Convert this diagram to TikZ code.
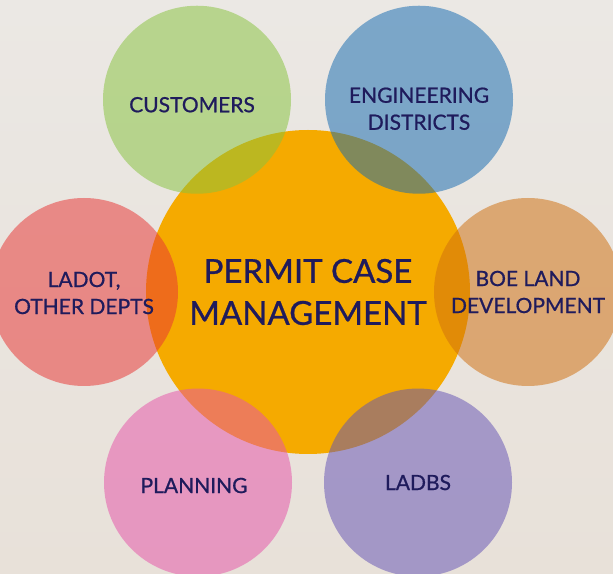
\documentclass[tikz,border=0pt]{standalone}
\usepackage{fontspec}
\setmainfont{Lato}[FakeBold=0.8]
\usepackage{tikz}
\usetikzlibrary{calc}
\definecolor{bgtop}{RGB}{235,232,228}
\definecolor{bgbot}{RGB}{232,225,217}
\definecolor{ink}{RGB}{31,27,92}
\definecolor{hubfill}{RGB}{245,170,0}
\definecolor{custfill}{RGB}{136,195,63}
\definecolor{engfill}{RGB}{22,107,177}
\definecolor{dotfill}{RGB}{232,53,52}
\definecolor{boefill}{RGB}{207,111,15}
\definecolor{planfill}{RGB}{230,84,169}
\definecolor{dbsfill}{RGB}{101,84,181}
\tikzset{
    hub/.style={circle,minimum size=324pt,inner sep=0pt,fill=hubfill,text=ink,
        align=center,font=\fontsize{33}{42}\selectfont},
    sat/.style={circle,minimum size=188pt,inner sep=0pt,fill opacity=0.52},
    satlabel/.style={text=ink,text opacity=1,fill opacity=1,align=center,
        inner sep=0pt,font=\fontsize{21}{27}\selectfont}
}
\begin{document}
\begin{tikzpicture}[x=1pt,y=1pt]
    \clip (0,0) rectangle (613,573);
    \shade[top color=bgtop,bottom color=bgbot] (0,0) rectangle (613,573);
    \node[hub] (pcm) at (308,281) {PERMIT CASE\\MANAGEMENT};
    \node[sat,fill=custfill,label={[satlabel,xshift=-5pt,yshift=-5pt]center:CUSTOMERS}]
        (cust) at ($(pcm)+(120:222)$) {};
    \node[sat,fill=engfill,label={[satlabel,yshift=-9pt]center:{ENGINEERING\\DISTRICTS}}]
        (eng) at ($(pcm)+(60:222)$) {};
    \node[sat,fill=dotfill,label={[satlabel,yshift=-1pt]center:{LADOT,\\OTHER DEPTS}}]
        (dot) at ($(pcm)+(180:224)$) {};
    \node[sat,fill=boefill,label={[satlabel]center:{BOE LAND\\DEVELOPMENT}}]
        (boe) at ($(pcm)+(0:220)$) {};
    \node[sat,fill=planfill,label={[satlabel,xshift=-4pt,yshift=-3pt]center:PLANNING}]
        (plan) at ($(pcm)+(240:220)$) {};
    \node[sat,fill=dbsfill,label={[satlabel]center:LADBS}]
        (dbs) at ($(pcm)+(300:220)$) {};
\end{tikzpicture}
\end{document}
